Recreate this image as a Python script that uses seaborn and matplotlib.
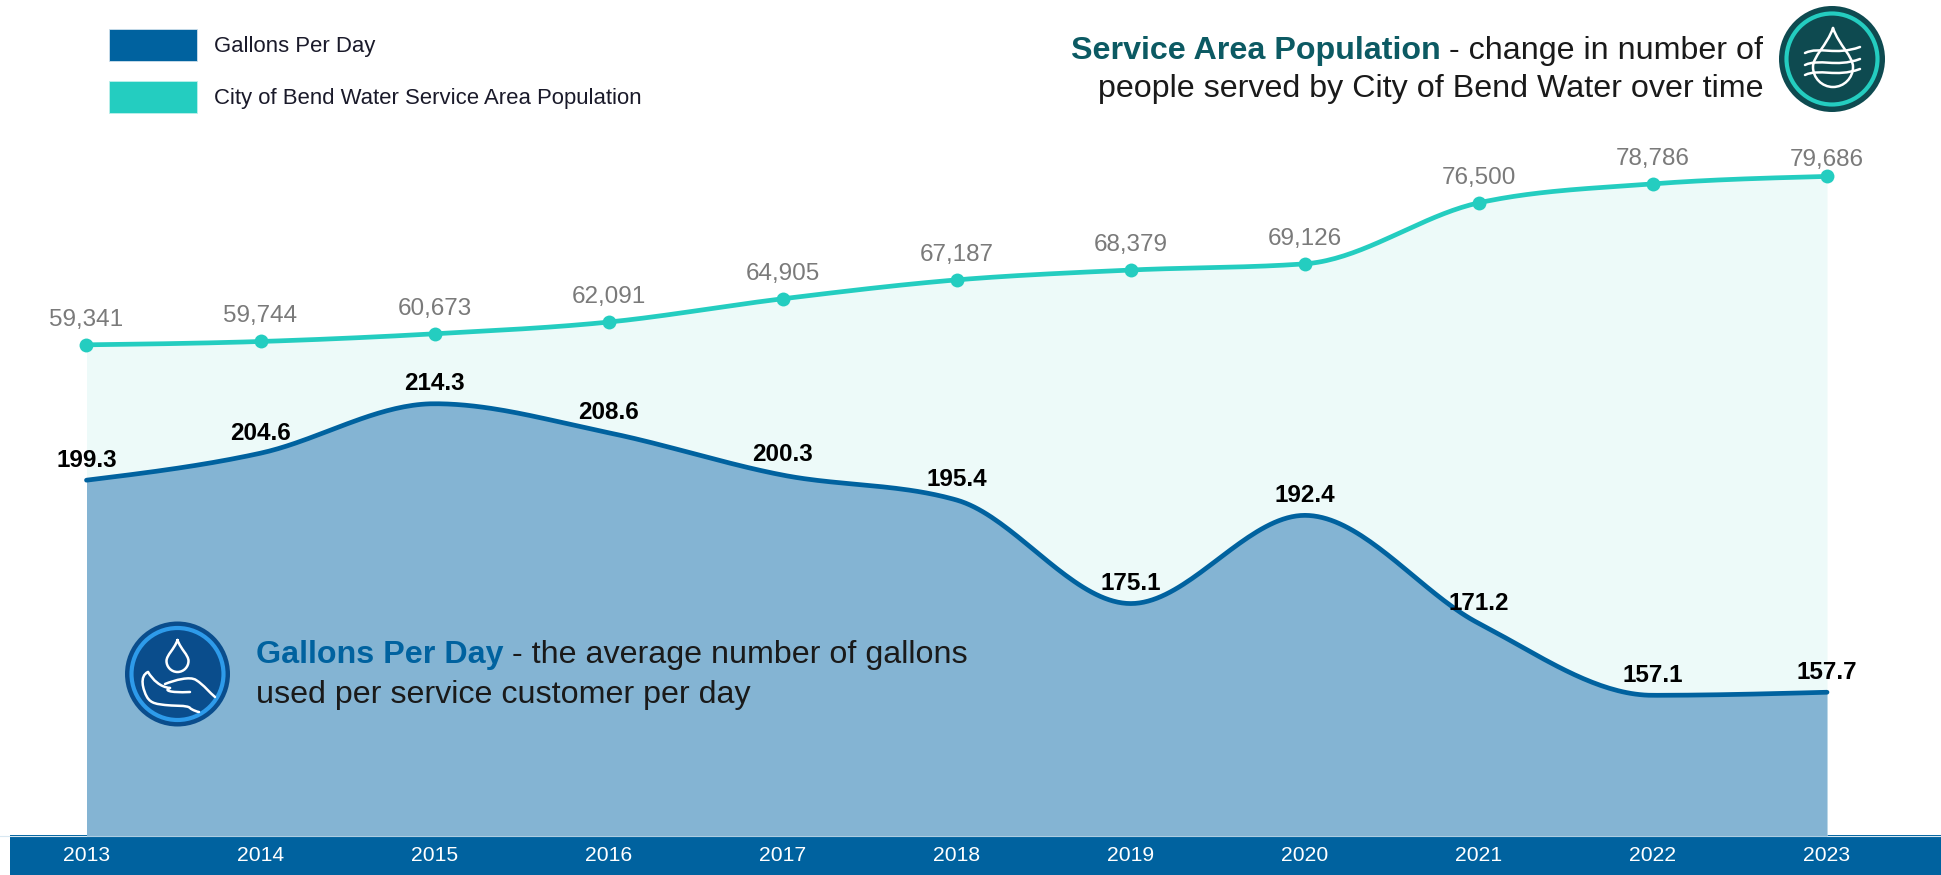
import numpy as np
import pandas as pd
import matplotlib
matplotlib.use("Agg")
import matplotlib.pyplot as plt
import seaborn as sns
from matplotlib.patches import Rectangle, Patch, Circle, PathPatch
from matplotlib.path import Path

years = [2013, 2014, 2015, 2016, 2017, 2018, 2019, 2020, 2021, 2022, 2023]
gallons = [199.3, 204.6, 214.3, 208.6, 200.3, 195.4, 175.1, 192.4, 171.2, 157.1, 157.7]
population = [59341, 59744, 60673, 62091, 64905, 67187, 68379, 69126, 76500, 78786, 79686]
legend_labels = ["Gallons Per Day", "City of Bend Water Service Area Population"]

BLUE = "#00629F"
TEAL = "#24CDC0"
W, H = 1941, 875


def smooth(xs, ys, n=40):
    """Monotone cubic curve through the data points (d3 monotoneX tangents)."""
    xs = np.asarray(xs, float)
    ys = np.asarray(ys, float)
    h = np.diff(xs)
    s = np.diff(ys) / h
    m = np.zeros_like(ys)
    for i in range(1, len(xs) - 1):
        if s[i - 1] * s[i] > 0:
            p = (s[i - 1] + s[i]) / 2
            m[i] = np.sign(p) * min(2 * abs(s[i - 1]), 2 * abs(s[i]), abs(p))
    m[0] = (3 * s[0] - m[1]) / 2
    m[-1] = (3 * s[-1] - m[-2]) / 2
    out_x, out_y = [], []
    for i in range(len(xs) - 1):
        t = np.linspace(0, 1, n, endpoint=False)
        out_x.append(xs[i] + t * h[i])
        out_y.append((2*t**3 - 3*t**2 + 1) * ys[i] + (t**3 - 2*t**2 + t) * h[i] * m[i]
                     + (-2*t**3 + 3*t**2) * ys[i + 1] + (t**3 - t**2) * h[i] * m[i + 1])
    return np.r_[np.concatenate(out_x), xs[-1]], np.r_[np.concatenate(out_y), ys[-1]]


sns.set_theme(style="white")
plt.rcParams["font.family"] = ["Liberation Sans", "DejaVu Sans"]

fig = plt.figure(figsize=(W / 100, H / 100), dpi=100)
fig.patches.append(Rectangle((10 / W, 0), 1 - 10 / W, 40 / H, transform=fig.transFigure,
                             facecolor=BLUE, edgecolor="none", zorder=-1))

ax = fig.add_axes([0, 39 / H, 1, 1 - 39 / H])
ax.patch.set_alpha(0)
ax2 = ax.twinx()
ax2.patch.set_alpha(0)

step = 174.05
x0 = 86.5
ax.set_xlim(2013 - x0 / step, 2013 + (W - x0) / step)
ax.set_ylim(0, 101000)
ax2.set_ylim(129.5, 293.5)

# population
px, py = smooth(years, population)
ax.fill_between(px, 0, py, color="#EDFAF9", linewidth=0, zorder=1)
sns.lineplot(x=px, y=py, ax=ax, color=TEAL, linewidth=3.4, zorder=3, errorbar=None)
sns.scatterplot(x=years, y=population, ax=ax, color=TEAL, s=100, linewidth=0, zorder=4)

# gallons
gx, gy = smooth(years, gallons)
ax2.fill_between(gx, 129.5, gy, color="#84B4D3", linewidth=0, zorder=1)
sns.lineplot(x=gx, y=gy, ax=ax2, color=BLUE, linewidth=3.4, zorder=3, errorbar=None)

for y, v in zip(years, population):
    off = 12 if y == years[-1] else 18
    ax.annotate(f"{v:,}", (y, v), xytext=(0, off), textcoords="offset points", ha="center",
                va="center", fontsize=17.5, color="#7A7A7A", zorder=6)
for y, v in zip(years, gallons):
    ax2.annotate(f"{v:.1f}", (y, v), xytext=(0, 14.5), textcoords="offset points", ha="center",
                 va="center", fontsize=17.5, fontweight="bold", color="black", zorder=6)

for a in (ax, ax2):
    for s in a.spines.values():
        s.set_visible(False)
    a.set_xlabel("")
    a.set_ylabel("")
    a.grid(False)
ax.spines["bottom"].set_visible(True)
ax.spines["bottom"].set_color("#D8E8F2")
ax.spines["bottom"].set_linewidth(0.8)
ax2.set_yticks([])
ax.set_yticks([])
ax.set_xticks(years)
ax.set_xticklabels([str(y) for y in years], fontsize=15.2, color="white")
ax.tick_params(axis="x", length=0, pad=7.5)

LFS = 15.9
em = LFS * 100 / 72
handles = [Patch(facecolor=BLUE, edgecolor="#CFE0EC", linewidth=0.6),
           Patch(facecolor=TEAL, edgecolor="#BDF0EB", linewidth=0.6)]
fig.legend(handles, legend_labels, loc="upper left", bbox_to_anchor=(108.5 / W, 1 - 29 / H),
           frameon=False, fontsize=LFS, borderpad=0, borderaxespad=0, handlelength=88 / em,
           handleheight=1.852, labelspacing=20 / em, handletextpad=17 / em,
           labelcolor="#1A1A2A")

# overlay in pixel coordinates for the annotations and icons
ov = fig.add_axes([0, 0, 1, 1], zorder=10)
ov.set_xlim(0, W)
ov.set_ylim(H, 0)
ov.axis("off")
ov.patch.set_alpha(0)
FS = 23.2
t = ov.text(1763, 50.5, "- change in number of", ha="right", va="center", fontsize=FS, color="#1A1A1A")
r = fig.canvas.get_renderer()
bb = t.get_window_extent(r)
ov.text(bb.x0 - 8, 50.5, "Service Area Population", ha="right", va="center", fontsize=FS,
        fontweight="bold", color="#0C5A63")
ov.text(1763, 89.5, "people served by City of Bend Water over time", ha="right", va="center",
        fontsize=FS, color="#1A1A1A")
t = ov.text(256.5, 655.5, "Gallons Per Day", ha="left", va="center", fontsize=FS, fontweight="bold", color=BLUE)
bb = t.get_window_extent(r)
ov.text(bb.x1 + 8, 655.5, "- the average number of gallons", ha="left", va="center", fontsize=FS, color="#1A1A1A")
ov.text(256.5, 694.5, "used per service customer per day", ha="left", va="center", fontsize=FS, color="#1A1A1A")


def stroke(pts, codes=None, lw=1.8):
    ov.add_patch(PathPatch(Path(pts, codes), facecolor="none", edgecolor="white", linewidth=lw,
                           capstyle="round", joinstyle="round", zorder=3))


def drop(cx, top, bottom, hw, lw=1.8):
    mid = bottom - hw
    k = 0.55 * hw
    pts = [(cx, top), (cx - hw * 0.3, top + (mid - top) * 0.45), (cx - hw, mid - k), (cx - hw, mid),
           (cx - hw, mid + k), (cx - k, bottom), (cx, bottom), (cx + k, bottom), (cx + hw, mid + k), (cx + hw, mid),
           (cx + hw, mid - k), (cx + hw * 0.3, top + (mid - top) * 0.45), (cx, top)]
    stroke(pts, [Path.MOVETO] + [Path.CURVE4] * 12, lw)


# population icon
ov.add_patch(Circle((1832, 59), 53, facecolor="#0E4A50", edgecolor="none", zorder=1))
ov.add_patch(Circle((1832, 59), 45.5, facecolor="none", edgecolor=TEAL, linewidth=3, zorder=2))
drop(1833, 28, 87, 20)
for yw in (50, 62, 72):
    stroke([(1805, yw + 3), (1820, yw - 4), (1835, yw + 6), (1860, yw - 3)],
           [Path.MOVETO, Path.CURVE4, Path.CURVE4, Path.CURVE4])

# gallons icon
ov.add_patch(Circle((177.5, 674), 52.5, facecolor="#0A4D8C", edgecolor="none", zorder=1))
ov.add_patch(Circle((177.5, 674), 46, facecolor="none", edgecolor="#2E9BEA", linewidth=3, zorder=2))
drop(177.5, 640, 672, 11)
C4 = Path.CURVE4
stroke([(148, 672), (139, 676), (143, 690), (147, 697), (151, 704), (158, 704), (165, 705),
        (172, 706), (188, 705), (190, 708), (192, 710), (198, 712), (199, 712)],
       [Path.MOVETO] + [C4] * 12)
stroke([(148, 672), (153, 680), (160, 687), (170, 688)], [Path.MOVETO, C4, C4, C4])
stroke([(165, 684), (175, 680), (190, 676), (196, 680), (204, 685), (210, 693), (215, 697)],
       [Path.MOVETO] + [C4] * 6)
stroke([(170, 688), (164, 690), (168, 693), (190, 692)], [Path.MOVETO, C4, C4, C4])

fig.savefig("out.png", dpi=100)
